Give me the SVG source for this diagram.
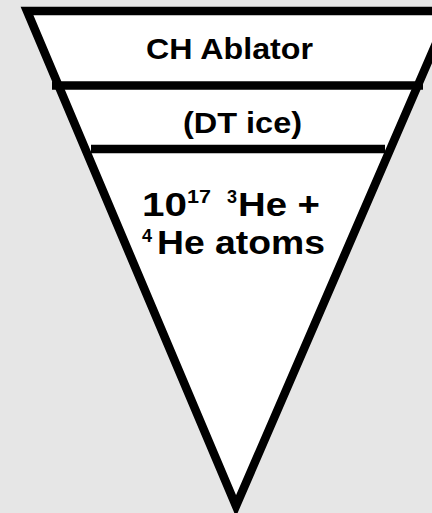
<svg xmlns="http://www.w3.org/2000/svg" width="432" height="513" viewBox="0 0 432 513">
<style>
.t{font-family:"Liberation Sans",Arial,Helvetica,sans-serif;font-weight:bold;fill:#000}
.lab{font-size:30px}
.big{font-size:34px}
.sup{font-size:18px}
.ln{stroke:#000;stroke-width:8.5;fill:none}
</style>
<rect width="432" height="513" fill="#e6e6e6"/>
<g id="cone">
<polygon points="27,11 450,11 236,506" fill="#fff" stroke="#000" stroke-width="8.5" stroke-linejoin="miter" stroke-miterlimit="10"/>
</g>
<g id="connectors">
<line x1="52" y1="85.5" x2="423" y2="85.5" class="ln"/>
<line x1="91" y1="149" x2="385" y2="149" class="ln"/>
</g>
<g id="ablator">
<text class="t lab" x="146" y="59" textLength="167" lengthAdjust="spacingAndGlyphs">CH Ablator</text>
</g>
<g id="ice">
<text class="t lab" x="183" y="133" textLength="119" lengthAdjust="spacingAndGlyphs">(DT ice)</text>
</g>
<g id="gas">
<text class="t big" x="142" y="216" textLength="45" lengthAdjust="spacingAndGlyphs">10</text>
<text class="t sup" x="187" y="203" textLength="24" lengthAdjust="spacingAndGlyphs">17</text>
<text class="t sup" x="227" y="203">3</text>
<text class="t big" x="238" y="216" textLength="82" lengthAdjust="spacingAndGlyphs">He +</text>
<text class="t sup" x="142" y="242">4</text>
<text class="t big" x="157" y="254" textLength="168" lengthAdjust="spacingAndGlyphs">He atoms</text>
</g>
</svg>
